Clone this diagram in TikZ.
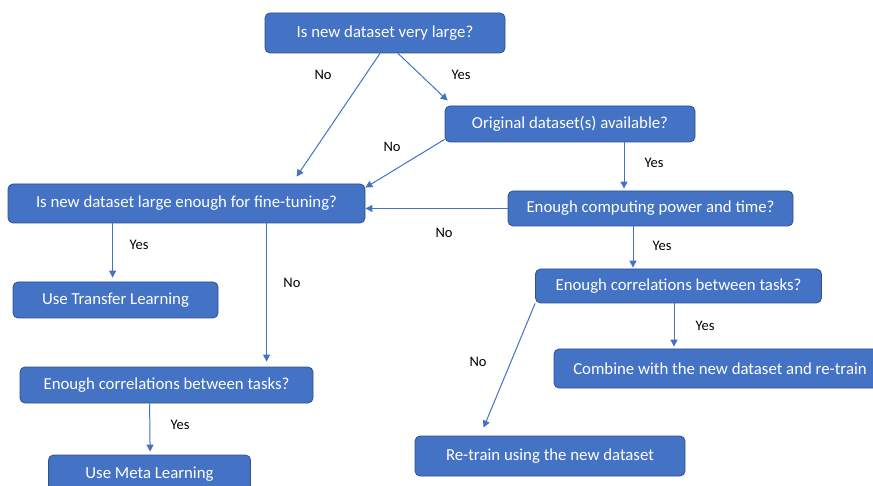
\documentclass[tikz,border=0pt]{standalone}
\usepackage{fontspec}
\setmainfont{Carlito}
\usetikzlibrary{calc,arrows.meta}
\definecolor{boxfill}{HTML}{4472C4}
\definecolor{boxline}{HTML}{2F528F}
\definecolor{arrowc}{HTML}{4472C4}
\begin{document}
\begin{tikzpicture}[x=1pt,y=-1pt,
  box/.style={draw=boxline, line width=0.8pt, fill=boxfill, rounded corners=5pt,
    text=white, font=\fontsize{16.8}{20}\selectfont, inner sep=0pt, anchor=center},
  lab/.style={font=\fontsize{14.5}{17}\selectfont, text=black, inner sep=0pt, anchor=center},
  arr/.style={draw=arrowc, line width=1pt, -{Triangle[width=7pt,length=7pt]}}]
\clip (0,0) rectangle (873,486);
\fill[white] (0,0) rectangle (873,486);

\node[box, minimum width=240pt, minimum height=40pt] (A) at (385,33) {Is new dataset very large?};
\node[box, minimum width=250pt, minimum height=36pt] (B) at (570,124) {Original dataset(s) available?};
\node[box, minimum width=357pt, minimum height=39pt] (C) at (186.5,203.5) {Is new dataset large enough for fine-tuning?};
\node[box, minimum width=285pt, minimum height=35pt] (D) at (650.5,208.5) {Enough computing power and time?};
\node[box, minimum width=286pt, minimum height=34pt] (E) at (678.5,286) {Enough correlations between tasks?};
\node[box, minimum width=332pt, minimum height=39pt] (F) at (720,368.5) {Combine with the new dataset and re-train};
\node[box, minimum width=270pt, minimum height=40pt] (G) at (550,456) {Re-train using the new dataset};
\node[box, minimum width=205pt, minimum height=36pt] (H) at (115.5,300) {Use Transfer Learning};
\node[box, minimum width=293pt, minimum height=36pt] (I) at (166.5,385) {Enough correlations between tasks?};
\node[box, minimum width=202pt, minimum height=38pt] (J) at (149.5,474) {Use Meta Learning};

\draw[arr] ($(A.south)+(-5,0)$) -- ($(C.north west)+(289,-7)$);
\draw[arr] ($(A.south)+(13,0)$) -- ($(B.north west)+(3,-5)$);
\draw[arr] ($(B.south west)+(0,-3)$) -- ($(C.north east)+(0,4)$);
\draw[arr] ($(B.south)+(54,0)$) -- ($(D.north)+(-26.5,-2)$);
\draw[arr] (D.west) -- (D.west -| C.east);
\draw[arr] ($(D.south)+(-17.5,0)$) -- ($(E.north)+(-45.5,-1)$);
\draw[arr] ($(E.south)+(-4.5,0)$) -- ($(F.north)+(-46,-2)$);
\draw[arr] (E.south west) -- ($(G.north west)+(69,-8)$);
\draw[arr] ($(C.south west)+(105,0)$) -- ($(H.north west)+(100,-4)$);
\draw[arr] ($(C.south west)+(259,0)$) -- ($(I.north west)+(247,-5)$);
\draw[arr] ($(I.south west)+(130,0)$) -- ($(J.north west)+(102,-3)$);

\node[lab] (l1) at (323,75) {No};
\node[lab] (l2) at (461,75) {Yes};
\node[lab] (l3) at (392,147) {No};
\node[lab] (l4) at (654,163) {Yes};
\node[lab] (l5) at (444,233) {No};
\node[lab] (l6) at (662,246) {Yes};
\node[lab] (l7) at (705,326) {Yes};
\node[lab] (l8) at (478,362) {No};
\node[lab] (l9) at (139,245) {Yes};
\node[lab] (l10) at (292,283) {No};
\node[lab] (l11) at (180,425) {Yes};
\end{tikzpicture}
\end{document}
